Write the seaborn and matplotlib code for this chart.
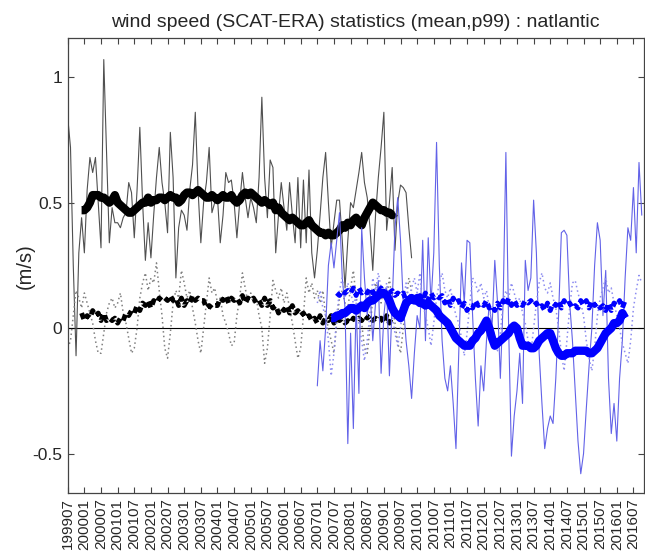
import numpy as np
import pandas as pd
import matplotlib
matplotlib.use("Agg")
import matplotlib.pyplot as plt
import seaborn as sns

# month index 0 = 1999-07
black_start = 0
black_p99 = [
    0.84, 0.72, 0.25, -0.11, 0.30, 0.44, 0.30, 0.55, 0.68, 0.62,
    0.68, 0.50, 0.32, 1.07, 0.70, 0.34, 0.48, 0.42, 0.42, 0.40,
    0.44, 0.46, 0.58, 0.54, 0.36, 0.55, 0.80, 0.50, 0.27, 0.42,
    0.28, 0.45, 0.60, 0.72, 0.58, 0.50, 0.38, 0.78, 0.60, 0.20,
    0.40, 0.47, 0.45, 0.39, 0.55, 0.65, 0.86, 0.55, 0.34, 0.50,
    0.58, 0.72, 0.46, 0.50, 0.52, 0.34, 0.45, 0.62, 0.58, 0.59,
    0.50, 0.36, 0.50, 0.62, 0.52, 0.44, 0.52, 0.48, 0.42, 0.60,
    0.92, 0.60, 0.44, 0.67, 0.64, 0.30, 0.45, 0.58, 0.48, 0.39,
    0.58, 0.45, 0.34, 0.60, 0.32, 0.59, 0.34, 0.63, 0.30, 0.20,
    0.31, 0.45, 0.60, 0.70, 0.50, 0.32, 0.42, 0.51, 0.51, 0.35,
    0.16, 0.35, 0.50, 0.48, 0.55, 0.62, 0.70, 0.58, 0.52, 0.40,
    0.23, 0.45, 0.60, 0.72, 0.86, 0.39, 0.50, 0.64, 0.31, 0.50,
    0.57, 0.56, 0.54, 0.40, 0.28,
]

black_p99_smooth_start = 5
black_p99_smooth = [
    0.47, 0.47, 0.48, 0.50, 0.53, 0.53, 0.53,
    0.52, 0.52, 0.51, 0.50, 0.51, 0.53,
    0.50, 0.49, 0.48, 0.47, 0.46, 0.46, 0.47, 0.48,
    0.49, 0.50, 0.50, 0.52, 0.50, 0.51, 0.51, 0.52, 0.52, 0.51,
    0.52, 0.53, 0.52, 0.52, 0.50, 0.51, 0.53, 0.54, 0.54, 0.53,
    0.54, 0.55, 0.54, 0.53, 0.52, 0.52, 0.53, 0.52, 0.51, 0.52,
    0.53, 0.52, 0.52, 0.53, 0.51, 0.50, 0.51, 0.53, 0.54, 0.53,
    0.54, 0.53, 0.52, 0.51, 0.50, 0.51, 0.50, 0.49, 0.50, 0.47,
    0.48, 0.46, 0.45, 0.44, 0.43, 0.44, 0.43, 0.42, 0.41, 0.41,
    0.42, 0.43, 0.41, 0.40, 0.39, 0.38, 0.38, 0.37, 0.38, 0.37,
    0.37, 0.38, 0.39, 0.41, 0.40, 0.42, 0.41, 0.43, 0.44, 0.42,
    0.41, 0.44, 0.46, 0.48, 0.50, 0.49, 0.48, 0.47, 0.47, 0.46,
    0.46, 0.45, 0.46,
]

black_mean = [
    -0.08, -0.05, 0.05, 0.15, 0.12, 0.08, 0.14, 0.10, 0.06, 0.02, -0.05, -0.10,
    -0.10, -0.02, 0.06, 0.10, 0.12, 0.08, 0.10, 0.14, 0.06, 0.02, -0.04, -0.10,
    -0.08, 0.00, 0.12, 0.18, 0.22, 0.15, 0.20, 0.18, 0.26, 0.15, 0.05, -0.08,
    -0.12, -0.02, 0.10, 0.15, 0.12, 0.23, 0.18, 0.12, 0.15, 0.08, 0.02, -0.05,
    -0.10, 0.00, 0.10, 0.20, 0.14, 0.16, 0.10, 0.12, 0.05, 0.02, -0.02, -0.07,
    -0.06, 0.05, 0.12, 0.22, 0.16, 0.10, 0.14, 0.10, 0.12, 0.05, 0.00, -0.14,
    -0.08, 0.05, 0.19, 0.15, 0.12, 0.16, 0.10, 0.14, 0.08, 0.02, -0.05, -0.12,
    -0.08, 0.05, 0.20, 0.14, 0.18, 0.12, 0.15, 0.10, 0.15, 0.05, 0.00, -0.05,
    -0.10, 0.02, 0.12, 0.15, 0.10, 0.08, 0.16, 0.23, 0.12, 0.08, 0.02, -0.08,
    -0.10, 0.00, 0.12, 0.18, 0.14, 0.10, 0.16, 0.12, 0.20, 0.10, 0.02, -0.06,
    -0.10, 0.00, 0.10, 0.20, 0.15,
]

black_mean_smooth_start = 5
black_mean_smooth = [
    0.06, 0.03, 0.05, 0.04, 0.07, 0.05, 0.06, 0.03, 0.06, 0.03,
    0.04, 0.03, 0.04, 0.02, 0.04, 0.03, 0.06, 0.05, 0.07, 0.06,
    0.09, 0.07, 0.10, 0.09, 0.11, 0.08, 0.11, 0.10, 0.12, 0.11,
    0.12, 0.11, 0.13, 0.11, 0.12, 0.09, 0.12, 0.09, 0.11, 0.10,
    0.13, 0.11, 0.12, 0.11, 0.11, 0.08, 0.09, 0.08, 0.09, 0.09,
    0.12, 0.11, 0.13, 0.10, 0.12, 0.11, 0.12, 0.10, 0.13, 0.10,
    0.12, 0.11, 0.12, 0.10, 0.11, 0.09, 0.12, 0.09, 0.11, 0.08,
    0.09, 0.06, 0.08, 0.07, 0.09, 0.06, 0.09, 0.06, 0.07, 0.05,
    0.06, 0.04, 0.05, 0.03, 0.04, 0.02, 0.05, 0.02, 0.04, 0.03,
    0.05, 0.02, 0.04, 0.03, 0.04, 0.02, 0.03, 0.02, 0.04, 0.03,
    0.04, 0.03, 0.05, 0.04, 0.05, 0.03, 0.04, 0.03, 0.04, 0.02,
    0.05, 0.02, 0.05,
]

blue_start = 90
blue_p99 = [
    -0.23, -0.05, -0.17, 0.00, 0.25, 0.34, 0.24, 0.35, 0.46, 0.20,
    0.08, -0.46, -0.02, -0.40, 0.10, -0.26, 0.40, 0.20, 0.05, 0.15,
    -0.05, 0.10, 0.19, -0.18, 0.05, 0.16, -0.19, 0.10, 0.40, 0.52,
    0.35, 0.10, -0.05, -0.15, -0.28, -0.10, 0.05, 0.00, 0.35, -0.05,
    0.36, 0.10, 0.30, 0.74, 0.25, -0.05, -0.20, -0.25, -0.15, -0.30,
    -0.48, -0.10, 0.26, 0.10, 0.35, 0.34, 0.05, -0.20, -0.39, -0.15,
    -0.25, -0.05, 0.10, 0.00, 0.27, 0.10, -0.20, 0.10, 0.70, 0.00,
    -0.51, -0.35, -0.25, -0.10, -0.30, 0.27, 0.15, 0.20, 0.51, 0.30,
    -0.10, -0.30, -0.48, -0.40, -0.35, -0.38, -0.20, 0.05, 0.38, 0.39,
    0.37, 0.10, -0.05, -0.25, -0.45, -0.58, -0.50, -0.32, -0.15, 0.00,
    0.25, 0.42, 0.35, 0.05, 0.23, -0.20, -0.42, -0.30, -0.45, -0.20,
    -0.05, 0.20, 0.40, 0.35, 0.56, 0.30, 0.66, 0.45,
]

blue_p99_smooth_start = 95
blue_p99_smooth = [
    0.04, 0.04, 0.05, 0.05, 0.06, 0.06, 0.07, 0.08, 0.08, 0.07,
    0.08, 0.09, 0.08, 0.10, 0.11, 0.11, 0.12, 0.13, 0.14, 0.14,
    0.13, 0.11, 0.08, 0.06, 0.05, 0.04, 0.07, 0.10, 0.11, 0.12,
    0.11, 0.12, 0.10, 0.10, 0.09, 0.10, 0.09, 0.08, 0.07, 0.05,
    0.04, 0.03, 0.02, 0.00, -0.02, -0.04, -0.05, -0.06, -0.07, -0.07,
    -0.07, -0.05, -0.04, -0.02, -0.01, 0.01, 0.03, 0.00, -0.04, -0.07,
    -0.06, -0.05, -0.04, -0.03, -0.02, 0.00, 0.01, 0.00, -0.04, -0.07,
    -0.07, -0.07, -0.08, -0.08, -0.07, -0.05, -0.04, -0.03, -0.02, -0.02,
    -0.05, -0.08, -0.10, -0.11, -0.11, -0.10, -0.10, -0.10, -0.09, -0.09,
    -0.09, -0.09, -0.09, -0.10, -0.10, -0.09, -0.08, -0.06, -0.04, -0.02,
    -0.01, 0.00, 0.02, 0.02, 0.03, 0.06, 0.04,
]

blue_mean = [
    0.10, 0.15, 0.08, 0.05, -0.05, -0.19,
    -0.10, 0.05, 0.15, 0.20, 0.12, 0.18, 0.14, 0.10, 0.12, 0.02, -0.05, -0.13,
    -0.05, 0.06, 0.20, 0.15, 0.22, 0.16, 0.12, 0.18, 0.10, 0.05, -0.02, -0.07,
    0.00, 0.10, 0.18, 0.12, 0.16, 0.20, 0.14, 0.22, 0.10, 0.05, 0.00, -0.07,
    0.02, 0.12, 0.18, 0.22, 0.15, 0.12, 0.16, 0.10, 0.05, 0.02, -0.04, -0.11,
    -0.02, 0.10, 0.20, 0.18, 0.14, 0.18, 0.12, 0.15, 0.08, 0.02, -0.04, -0.09,
    -0.02, 0.10, 0.15, 0.12, 0.18, 0.14, 0.10, 0.12, 0.06, 0.02, -0.05, -0.10,
    0.00, 0.10, 0.18, 0.22, 0.16, 0.14, 0.18, 0.12, 0.08, 0.00, -0.10, -0.17,
    -0.05, 0.08, 0.18, 0.19, 0.14, 0.10, 0.05, -0.05, -0.12, -0.17, -0.08, 0.05,
    0.12, 0.16, 0.20, 0.14, 0.16, 0.10, 0.05, 0.00, -0.06, -0.10, -0.14, -0.05,
    0.08, 0.15, 0.21, 0.18,
]

blue_mean_smooth_start = 97
blue_mean_smooth = [
    0.14, 0.13, 0.15, 0.14, 0.15, 0.14, 0.16, 0.13, 0.16, 0.14,
    0.15, 0.14, 0.16, 0.14, 0.15, 0.14, 0.16, 0.13, 0.15, 0.14,
    0.15, 0.13, 0.14, 0.13, 0.14, 0.11, 0.12, 0.11, 0.12, 0.10,
    0.13, 0.11, 0.14, 0.11, 0.14, 0.12, 0.13, 0.12, 0.13, 0.10,
    0.12, 0.09, 0.12, 0.10, 0.11, 0.08, 0.10, 0.07, 0.09, 0.08,
    0.11, 0.09, 0.10, 0.09, 0.11, 0.08, 0.09, 0.07, 0.10, 0.08,
    0.11, 0.09, 0.12, 0.09, 0.11, 0.09, 0.10, 0.09, 0.11, 0.10,
    0.11, 0.09, 0.10, 0.08, 0.09, 0.07, 0.10, 0.07, 0.10, 0.09,
    0.11, 0.08, 0.11, 0.09, 0.10, 0.08, 0.09, 0.08, 0.11, 0.09,
    0.11, 0.08, 0.11, 0.09, 0.10, 0.08, 0.09, 0.07, 0.10, 0.07,
    0.10, 0.09, 0.11, 0.08, 0.11,
]

tick_labels = [f"{1999 + (m + 6) // 12}{(m + 6) % 12 + 1:02d}" for m in range(0, 205, 6)]


def series(start, values):
    return pd.DataFrame({"month": np.arange(start, start + len(values)), "value": values})


sns.set_style("white")
plt.rcParams["font.family"] = ["Liberation Sans", "DejaVu Sans"]

fig = plt.figure(figsize=(6.45, 5.54), dpi=100)
ax = fig.add_axes([0.105, 0.110, 0.893, 0.821])

ax.axhline(0, color="black", lw=0.8, zorder=1)

thick = dict(lw=6, solid_capstyle="butt", solid_joinstyle="round")
dashed = dict(lw=3.5, linestyle=(0, (1.3, 0.9)), dash_capstyle="butt")
dotted = dict(lw=1.1, linestyle=(0, (1, 2)))

# ERS era (black)
sns.lineplot(data=series(black_start, black_p99), x="month", y="value", ax=ax,
             color="#505050", lw=0.8)
sns.lineplot(data=series(black_start, black_mean), x="month", y="value", ax=ax,
             color="#808080", **dotted)
sns.lineplot(data=series(black_mean_smooth_start, black_mean_smooth), x="month", y="value", ax=ax,
             color="black", **dashed)
sns.lineplot(data=series(black_p99_smooth_start, black_p99_smooth), x="month", y="value", ax=ax,
             color="black", **thick)

# later era (blue)
sns.lineplot(data=series(blue_start, blue_p99), x="month", y="value", ax=ax,
             color="#6262e8", lw=0.8)
sns.lineplot(data=series(blue_start, blue_mean), x="month", y="value", ax=ax,
             color="#8c8cf0", **dotted)
sns.lineplot(data=series(blue_mean_smooth_start, blue_mean_smooth), x="month", y="value", ax=ax,
             color="#0000ff", **dashed)
sns.lineplot(data=series(blue_p99_smooth_start, blue_p99_smooth), x="month", y="value", ax=ax,
             color="#0000ff", **thick)

ax.set_xlim(0, 207.7)
ax.set_ylim(-0.657, 1.155)
ax.set_xticks(range(0, 205, 6))
ax.set_xticklabels(tick_labels, rotation=90, fontsize=11)
ax.set_yticks([-0.5, 0, 0.5, 1])
ax.set_yticklabels(["-0.5", "0", "0.5", "1"], fontsize=12.5)
ax.tick_params(direction="in", length=4, width=0.8, color="#444444",
               top=True, right=True, bottom=True, left=True, pad=4)
for s in ax.spines.values():
    s.set_color("#444444")
    s.set_linewidth(0.9)

ax.set_xlabel("")
ax.set_ylabel("(m/s)", fontsize=14.5)
ax.yaxis.set_label_coords(-0.058, 0.5)
ax.set_title("wind speed (SCAT-ERA) statistics (mean,p99) : natlantic", fontsize=14, pad=8)

fig.savefig("out.png", dpi=100)
